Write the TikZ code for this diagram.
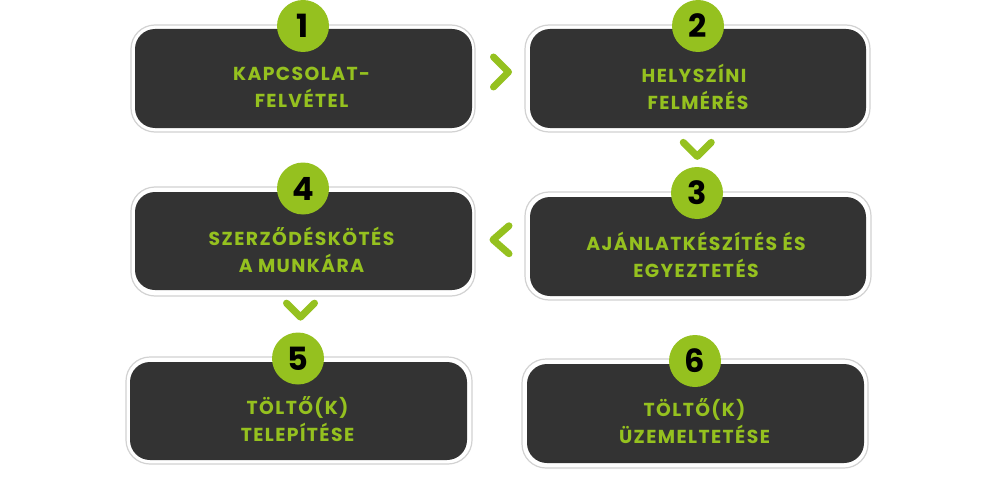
\documentclass[tikz,border=0pt]{standalone}
\usepackage{fontspec}
\setmainfont{Poppins}
\newfontfamily\lblfont[LetterSpace=7.5]{Poppins}
\usetikzlibrary{calc}
\definecolor{dark}{HTML}{333333}
\definecolor{lime}{HTML}{95C11F}
\definecolor{rim}{HTML}{D2D2D2}
\tikzset{
  outerbox/.style={draw=rim, line width=1.2pt, fill=white, rounded corners=24pt, inner sep=0pt, outer sep=0pt},
  innerbox/.style={fill=dark, rounded corners=20pt, inner sep=0pt, outer sep=0pt},
  badge/.style={circle, fill=lime, minimum size=52pt, inner sep=0pt, text=black, font=\bfseries\fontsize{32}{32}\selectfont},
  steplabel/.style={text=lime, align=center, inner sep=0pt, font=\lblfont\bfseries\fontsize{18.8}{27}\selectfont},
  chev/.style={draw=lime, line width=7pt, line cap=round, line join=round},
  chevright/.pic={\draw[chev] (-7.5,-15) -- (7.5,0) -- (-7.5,15);},
  chevleft/.pic={\draw[chev] (8,-14) -- (-8,0) -- (8,14);},
  chevdown/.pic={\draw[chev] (-14,-7) -- (0,7) -- (14,-7);}
}
\begin{document}
\begin{tikzpicture}[x=1pt,y=-1pt]
\useasboundingbox[fill=white] (0,0) rectangle (1000,492);
% step 1
\node[outerbox, minimum width=344, minimum height=107] (o1) at (303,78.5) {};
\node[innerbox, minimum width=337, minimum height=99] (i1) at (303.5,78.5) {};
\node[badge] (b1) at (303,26) {1};
\node[steplabel] (t1) at ($(i1.center)+(-2,8.5)$) {KAPCSOLAT-\\FELVÉTEL};
% step 2
\node[outerbox, minimum width=345, minimum height=107] (o2) at (697.5,78.5) {};
\node[innerbox, minimum width=336, minimum height=99] (i2) at (698,78.5) {};
\node[badge] (b2) at (698,26) {2};
\node[steplabel] (t2) at ($(i2.center)+(-4,8.5)$) {HELYSZÍNI\\\hspace*{8pt}FELMÉRÉS};
% step 3
\node[outerbox, minimum width=346, minimum height=108] (o3) at (698,246) {};
\node[innerbox, minimum width=336, minimum height=99] (i3) at (698,246.5) {};
\node[badge] (b3) at (697,193) {3};
\node[steplabel] (t3) at ($(i3.center)+(-2,8.5)$) {AJÁNLATKÉSZÍTÉS ÉS\\EGYEZTETÉS};
% step 4
\node[outerbox, minimum width=344, minimum height=109] (o4) at (303,241.5) {};
\node[innerbox, minimum width=337, minimum height=98] (i4) at (303.5,241) {};
\node[badge] (b4) at (303,188.5) {4};
\node[steplabel] (t4) at ($(i4.center)+(-2,9)$) {SZERZŐDÉSKÖTÉS\\A MUNKÁRA};
% step 5
\node[outerbox, minimum width=346, minimum height=107] (o5) at (299,410.5) {};
\node[innerbox, minimum width=337, minimum height=98] (i5) at (298.5,411) {};
\node[badge] (b5) at (298,358.5) {5};
\node[steplabel] (t5) at ($(i5.center)+(-1,8)$) {TÖLTŐ(K)\\TELEPÍTÉSE};
% step 6
\node[outerbox, minimum width=346, minimum height=109] (o6) at (695,413.5) {};
\node[innerbox, minimum width=337, minimum height=99] (i6) at (695.5,413.5) {};
\node[badge] (b6) at (695,361) {6};
\node[steplabel] (t6) at ($(i6.center)+(-1,7.5)$) {TÖLTŐ(K)\\ÜZEMELTETÉSE};
% chevrons
\coordinate (k12) at ($(i1.east)!0.5!(i2.west)+(0,-6.5)$);
\coordinate (k23) at ($(o2.south)!0.5!(b3.north)$);
\coordinate (k34) at ($(i4.east)!0.5!(i3.west)+(0,-4)$);
\coordinate (k45) at ($(o4.south)!0.5!(b5.north)+(0,-4)$);
\pic at (k12) {chevright};
\pic at (k23) {chevdown};
\pic at (k34) {chevleft};
\pic at (k45) {chevdown};
\end{tikzpicture}
\end{document}
